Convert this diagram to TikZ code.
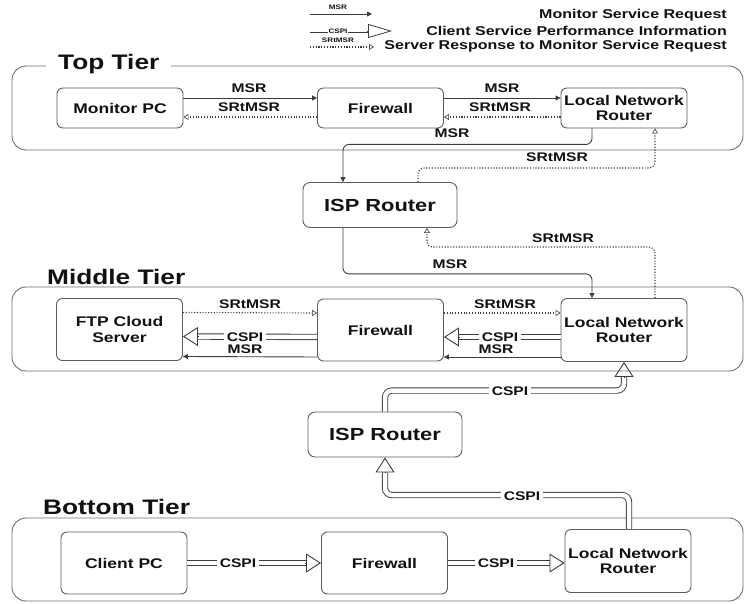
\documentclass[tikz,border=0pt]{standalone}
\usepackage{fontspec}
\setmainfont{Liberation Sans}[FakeStretch=1.25]
\usetikzlibrary{arrows.meta,calc}
\definecolor{boxc}{HTML}{5C5C5C}
\definecolor{framec}{HTML}{6E6E6E}
\definecolor{linec}{HTML}{3C3C3C}
\definecolor{txtc}{HTML}{111111}
\begin{document}
\begin{tikzpicture}[x=1pt,y=-1pt,
  every node/.style={text=txtc},
  frame/.style={draw=framec, line width=0.9pt, rounded corners=14pt},
  tiertitle/.style={fill=white, inner xsep=12pt, inner ysep=1pt, anchor=west, font=\bfseries\fontsize{21}{23}\selectfont},
  devbox/.style={draw=boxc, line width=0.9pt, rounded corners=6pt, minimum width=126pt, align=center, inner sep=0pt, font=\bfseries\fontsize{14}{15.5}\selectfont},
  ispbox/.style={draw=boxc, line width=0.9pt, rounded corners=7pt, minimum width=154pt, minimum height=45pt, inner sep=0pt, font=\bfseries\fontsize{17.5}{19}\selectfont},
  lbl/.style={font=\bfseries\fontsize{12.5}{14}\selectfont, inner sep=1pt},
  lblw/.style={lbl, fill=white, inner xsep=3pt},
  legtxt/.style={anchor=east, inner sep=0pt, font=\bfseries\fontsize{12.8}{15}\selectfont},
  leglbl/.style={inner sep=0.5pt, font=\bfseries\fontsize{6.5}{7}\selectfont},
  dotline/.style={draw=linec, line width=1.1pt, dash pattern=on 1.1pt off 1.7pt},
  msr/.style={draw=linec, line width=0.9pt, -{Triangle[length=5pt,width=5pt]}, rounded corners=6pt},
  srt/.style={dotline, -{Triangle[open,length=5pt,width=6pt,line width=0.6pt]}, rounded corners=6pt},
  cspi/.style={draw=linec, double=white, double distance=4.5pt, line width=0.9pt, rounded corners=7pt, shorten >=15pt},
  cspihead/.style={draw=linec, line width=0.9pt, -{Triangle[open,length=15pt,width=19pt]}},
]
\useasboundingbox (0,0) rectangle (748,604);

% ---------------- legend ----------------
\coordinate (lm1) at (310,14);  \coordinate (lm2) at (372,14);
\coordinate (lc1) at (310,31);  \coordinate (lc2) at (392,31);
\coordinate (ls1) at (310,47);  \coordinate (ls2) at (374,47);
\draw[draw=linec, line width=0.8pt, -{Triangle[length=5pt,width=5pt]}] (lm1) -- (lm2);
\node[leglbl] (lgm) at (338,7) {MSR};
\draw[draw=linec, double=white, double distance=3pt, line width=0.7pt, shorten >=24pt] (lc1) -- (lc2);
\draw[draw=linec, line width=0.8pt, -{Triangle[open,length=24pt,width=14pt]}] ([xshift=-25pt]lc2) -- (lc2);
\node[leglbl, fill=white] (lgc) at (338,31) {CSPI};
\draw[srt] (ls1) -- (ls2);
\node[leglbl] (lgs) at (338,40.5) {SRtMSR};
\node[legtxt] (lt1) at (727,15) {Monitor Service Request};
\node[legtxt] (lt2) at (727,31) {Client Service Performance Information};
\node[legtxt] (lt3) at (727,46.5) {Server Response to Monitor Service Request};

% ---------------- frames ----------------
\draw[frame] (12,66) rectangle (743,150);
\draw[frame] (12,287) rectangle (743,371);
\draw[frame] (12,518) rectangle (743,601);
\node[tiertitle] (tTop) at (46,64) {Top Tier};
\node[tiertitle] (tMid) at (35,277) {Middle Tier};
\node[tiertitle] (tBot) at (31,507) {Bottom Tier};

% ---------------- nodes ----------------
\node[devbox, minimum height=40pt] (MonPC) at (120,108) {Monitor PC};
\node[devbox, minimum height=40pt] (FW1) at (380.5,108) {Firewall};
\node[devbox, minimum height=40pt] (LNR1) at (624,108) {Local Network\\Router};
\node[ispbox] (ISP1) at (380,205) {ISP Router};
\node[devbox, minimum height=62pt] (FTP) at (119.5,329.5) {FTP Cloud\\Server};
\node[devbox, minimum height=62pt] (FW2) at (380.5,330) {Firewall};
\node[devbox, minimum height=63pt] (LNR2) at (624,330) {Local Network\\Router};
\node[ispbox] (ISP2) at (385,434.5) {ISP Router};
\node[devbox, minimum height=62pt] (Client) at (124,563) {Client PC};
\node[devbox, minimum height=62pt] (FW3) at (384.5,563) {Firewall};
\node[devbox, minimum height=63pt] (LNR3) at (628,561) {Local Network\\Router};

% ---------------- top tier connectors ----------------
\draw[msr] ([yshift=10pt]MonPC.east) -- ([yshift=10pt]FW1.west);
\draw[srt] ([yshift=-9pt]FW1.west) -- ([yshift=-9pt]MonPC.east);
\draw[msr] ([yshift=10pt]FW1.east) -- ([yshift=10pt]LNR1.west);
\draw[srt] ([yshift=-9pt]LNR1.west) -- ([yshift=-9pt]FW1.east);
\node[lbl] (l1) at (249,88) {MSR};
\node[lbl] (l2) at (249,107) {SRtMSR};
\node[lbl] (l3) at (502,88) {MSR};
\node[lbl] (l4) at (500,107) {SRtMSR};

% ---------------- ISP router 1 connectors ----------------
\draw[msr] ([xshift=-32pt]LNR1.south) -- ++(0,16) -| ([xshift=-37pt]ISP1.north);
\draw[srt] ([xshift=38pt]ISP1.north) -- ++(0,-14) -| ([xshift=31pt]LNR1.south);
\draw[srt] ([xshift=31pt]LNR2.north) -- ++(0,-51) -| ([xshift=47pt]ISP1.south);
\draw[msr] ([xshift=-37pt]ISP1.south) -- ++(0,46) -| ([xshift=-32pt]LNR2.north);
\node[lbl] (l5) at (452,133) {MSR};
\node[lbl] (l6) at (557,157) {SRtMSR};
\node[lbl] (l7) at (563,238) {SRtMSR};
\node[lbl] (l8) at (450,264) {MSR};

% ---------------- middle tier connectors ----------------
\draw[srt] ([yshift=17pt]FTP.east) -- ([yshift=17pt]FW2.west);
\draw[srt] ([yshift=17pt]FW2.east) -- ([yshift=17pt]LNR2.west);
\draw[cspi] ([yshift=-7pt]FW2.west) -- ([yshift=-7pt]FTP.east);
\draw[cspihead] ([yshift=-7pt,xshift=16pt]FTP.east) -- ([yshift=-7pt]FTP.east);
\draw[cspi] ([yshift=-7pt]LNR2.west) -- ([yshift=-7pt]FW2.east);
\draw[cspihead] ([yshift=-7pt,xshift=16pt]FW2.east) -- ([yshift=-7pt]FW2.east);
\draw[msr] ([yshift=-27pt]FW2.west) -- ([yshift=-27pt]FTP.east);
\draw[msr] ([yshift=-27pt]LNR2.west) -- ([yshift=-27pt]FW2.east);
\node[lbl] (m1) at (250,304) {SRtMSR};
\node[lbl] (m2) at (505,304) {SRtMSR};
\node[lblw] (m3) at (245,337) {CSPI};
\node[lblw] (m4) at (500,337) {CSPI};
\node[lblw, inner ysep=0pt] (m5) at (245,349.5) {MSR};
\node[lblw, inner ysep=0pt] (m6) at (496,349.5) {MSR};

% ---------------- ISP router 2 connectors ----------------
\draw[cspi] (ISP2.north) -- ++(0,-21) -| (LNR2.south);
\draw[cspihead] ([yshift=-16pt]LNR2.south) -- (LNR2.south);
\draw[cspi] ([xshift=1pt]LNR3.north) -- ++(0,-34) -| (ISP2.south);
\draw[cspihead] ([yshift=-16pt]ISP2.south) -- (ISP2.south);
\node[lblw] (c1) at (510,391) {CSPI};
\node[lblw] (c2) at (522,496) {CSPI};

% ---------------- bottom tier connectors ----------------
\draw[cspi] (Client.east) -- (FW3.west |- Client.east);
\draw[cspihead] ([xshift=-16pt]FW3.west |- Client.east) -- (FW3.west |- Client.east);
\draw[cspi] (FW3.east) -- (LNR3.west |- FW3.east);
\draw[cspihead] ([xshift=-16pt]LNR3.west |- FW3.east) -- (LNR3.west |- FW3.east);
\node[lblw] (b1) at (238,563) {CSPI};
\node[lblw] (b2) at (496,563) {CSPI};
\end{tikzpicture}
\end{document}
